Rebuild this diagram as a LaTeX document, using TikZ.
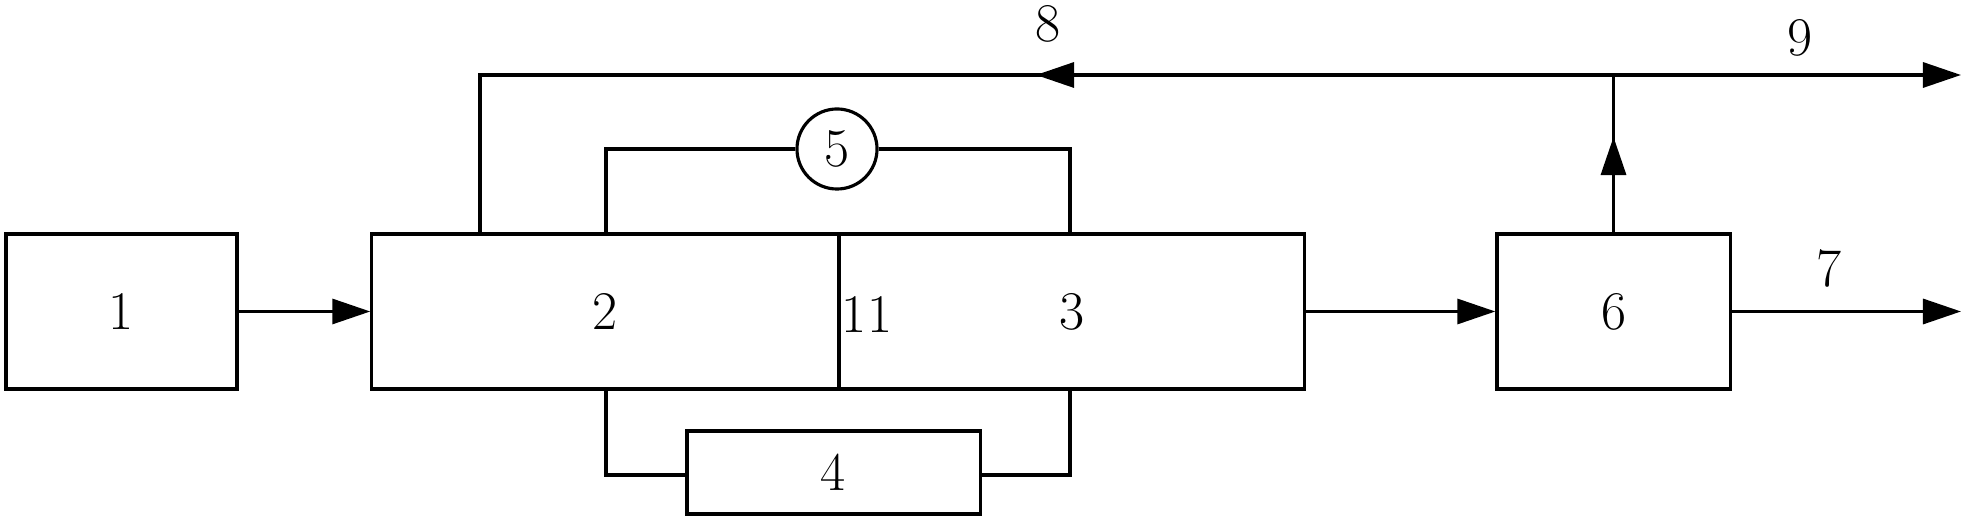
\documentclass[tikz,border=0pt]{standalone}
\usepackage{tikz}
\usetikzlibrary{arrows.meta}

\begin{document}
\begin{tikzpicture}[
        x=0.01cm, y=-0.01cm,
        flow/.style={-{Triangle[length=3.8mm,width=2.5mm]}},
    ]
    \useasboundingbox (0,0) rectangle (1966,522);
    % process units
    \tikzstyle{unit}=[draw, line width=0.9pt, inner sep=0, font=\fontsize{15.5}{18}\selectfont, minimum height=1.55cm]
    % plain labels
    \tikzstyle{lbl}=[inner sep=0, font=\fontsize{15.5}{18}\selectfont]
    \tikzset{every path/.style={line width=0.9pt}}
    \node[unit, minimum width=2.31cm] (U1) at (121.5,311.5) {1};
    \node[unit, minimum width=4.67cm] (U2) at (605.5,311.5) {2};
    \node[unit, minimum width=4.65cm] (U3) at (1071.5,311.5) {3};
    \node[unit, minimum width=2.33cm] (U6) at (1613.5,311.5) {6};
    \node[unit, minimum width=2.93cm, minimum height=0.83cm] (U4) at (833.5,472.5) {4};
    \node[unit, circle, minimum size=0.8cm, minimum height=0.8cm] (U5) at (837,149) {5};
    \node[lbl] (L11) at (867,314) {11};
    \node[lbl] (L8) at (1048,24) {8};
    \node[lbl] (L9) at (1800,38) {9};
    \node[lbl] (L7) at (1829,268) {7};
    \coordinate (C8) at (480,75);
    \coordinate (J) at (U6.north |- C8);
    \coordinate (A8) at (1036,75);
    \coordinate (A6) at (U6.north |- 0,137);
    \coordinate (O9) at (1961,75);
    \coordinate (O7) at (1961,311.5);
    \coordinate (P2) at (606,149);
    \coordinate (P3) at (1070,149);
    \coordinate (Q2) at (606,475);
    \coordinate (Q3) at (1070,475);
    % main line
    \draw[flow] (U1) -- (U2);
    \draw[flow] (U3) -- (U6);
    \draw[flow] (U6) -- (O7);
    % recycle and outlet
    \draw (U6.north) -- (J);
    \draw[flow] (U6.north) -- (A6);
    \draw (J) -- (C8) -- (C8 |- U2.north);
    \draw[flow] (J) -- (A8);
    \draw[flow] (J) -- (O9);
    % loop over 5
    \draw (P2 |- U2.north) -- (P2) -- (U5.west);
    \draw (U5.east) -- (P3) -- (P3 |- U3.north);
    % loop under 4
    \draw (Q2 |- U2.south) -- (Q2) -- (Q2 -| U4.west);
    \draw (Q3 -| U4.east) -- (Q3) -- (Q3 |- U3.south);
\end{tikzpicture}
\end{document}
